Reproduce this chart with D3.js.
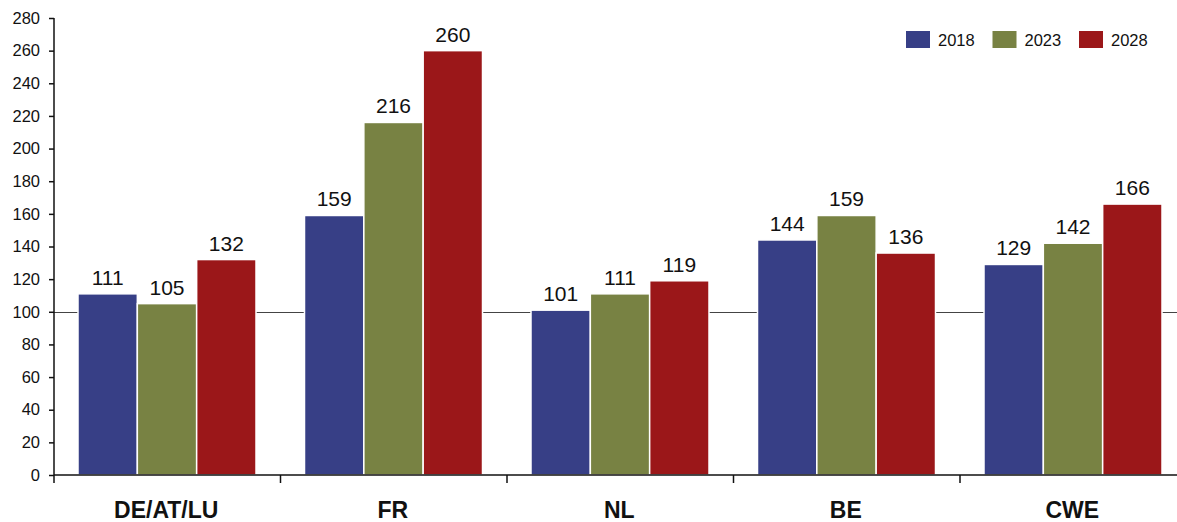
<!DOCTYPE html>
<html>
<head>
<meta charset="utf-8">
<script src="https://cdn.jsdelivr.net/npm/d3@7"></script>
<style>
  html, body { margin: 0; padding: 0; background: #fff; }
  svg { display: block; font-family: "Liberation Sans", Arial, sans-serif; }
</style>
</head>
<body>
<svg id="chart" width="1177" height="522"></svg>
<script>
// Index values per region and year
const categories = ["DE/AT/LU", "FR", "NL", "BE", "CWE"];
const years = ["2018", "2023", "2028"];
const values2018 = [111, 159, 101, 144, 129];
const values2023 = [105, 216, 111, 159, 142];
const values2028 = [132, 260, 119, 136, 166];
const yTicks = [0, 20, 40, 60, 80, 100, 120, 140, 160, 180, 200, 220, 240, 260, 280];
const colors = ["#373f86", "#788243", "#9b1719"];

const seriesValues = [values2018, values2023, values2028];

const svg = d3.select("#chart");
const W = 1177;
const plotLeft = 54, plotTop = 18, plotBottom = 475;
const band = 226.5;

const x = d3.scaleBand()
  .domain(categories)
  .range([plotLeft, plotLeft + band * categories.length])
  .paddingInner(0)
  .paddingOuter(0);

const inner = d3.scaleBand()
  .domain(years)
  .range([24, band - 24.5])
  .padding(0);

const y = d3.scaleLinear().domain([0, 280]).range([plotBottom, plotTop]);

// Reference line at 100, drawn behind the bars
svg.append("line")
  .attr("x1", plotLeft).attr("x2", W)
  .attr("y1", Math.round(y(100)) + 0.5).attr("y2", Math.round(y(100)) + 0.5)
  .attr("stroke", "#444").attr("stroke-width", 1);

// Bars
const groups = svg.append("g").selectAll("g")
  .data(categories)
  .join("g")
  .attr("transform", d => `translate(${x(d)},0)`);

groups.selectAll("rect")
  .data((d, i) => years.map((yr, j) => ({ yr, j, v: seriesValues[j][i] })))
  .join("rect")
  .attr("x", d => inner(d.yr))
  .attr("y", d => y(d.v))
  .attr("width", inner.bandwidth())
  .attr("height", d => plotBottom - y(d.v))
  .attr("fill", d => colors[d.j])
  .attr("stroke", "#fff")
  .attr("stroke-width", 1.5);

// Value labels
groups.selectAll("text")
  .data((d, i) => years.map((yr, j) => ({ yr, j, v: seriesValues[j][i] })))
  .join("text")
  .attr("x", d => inner(d.yr) + inner.bandwidth() / 2)
  .attr("y", d => y(d.v) - 9)
  .attr("text-anchor", "middle")
  .attr("font-size", 21)
  .attr("fill", "#111")
  .text(d => d.v);

// Y axis
const yAxis = d3.axisLeft(y).tickValues(yTicks).tickSize(5).tickPadding(9);
const gy = svg.append("g")
  .attr("transform", `translate(${plotLeft},0)`)
  .call(yAxis);
gy.select(".domain").attr("d", `M0,${plotTop}V${plotBottom}`).attr("stroke", "#111").attr("stroke-width", 1.5);
gy.selectAll(".tick line").attr("stroke", "#111").attr("stroke-width", 1.5);
gy.selectAll(".tick text")
  .attr("font-size", 16.5)
  .attr("font-family", "Liberation Sans, Arial, sans-serif")
  .attr("fill", "#111");

// X axis baseline and band separators
const gx = svg.append("g");
gx.append("line")
  .attr("x1", plotLeft).attr("x2", W)
  .attr("y1", plotBottom).attr("y2", plotBottom)
  .attr("stroke", "#111").attr("stroke-width", 1.5);
gx.selectAll("line.sep")
  .data(categories)
  .join("line")
  .attr("class", "sep")
  .attr("x1", d => x(d)).attr("x2", d => x(d))
  .attr("y1", plotBottom).attr("y2", plotBottom + 8)
  .attr("stroke", "#111").attr("stroke-width", 1.5);
gx.selectAll("text")
  .data(categories)
  .join("text")
  .attr("x", d => x(d) + band / 2 - 1)
  .attr("y", 518)
  .attr("text-anchor", "middle")
  .attr("font-size", 23)
  .attr("font-weight", "bold")
  .attr("fill", "#111")
  .text(d => d);

// Legend
const legend = svg.append("g").attr("transform", "translate(906,31)");
const items = legend.selectAll("g")
  .data(years)
  .join("g")
  .attr("transform", (d, i) => `translate(${i * 86.5},0)`);
items.append("rect")
  .attr("width", 24).attr("height", 17)
  .attr("fill", (d, i) => colors[i]);
items.append("text")
  .attr("x", 32).attr("y", 14.5)
  .attr("font-size", 16.5)
  .attr("fill", "#111")
  .text(d => d);
</script>
</body>
</html>
